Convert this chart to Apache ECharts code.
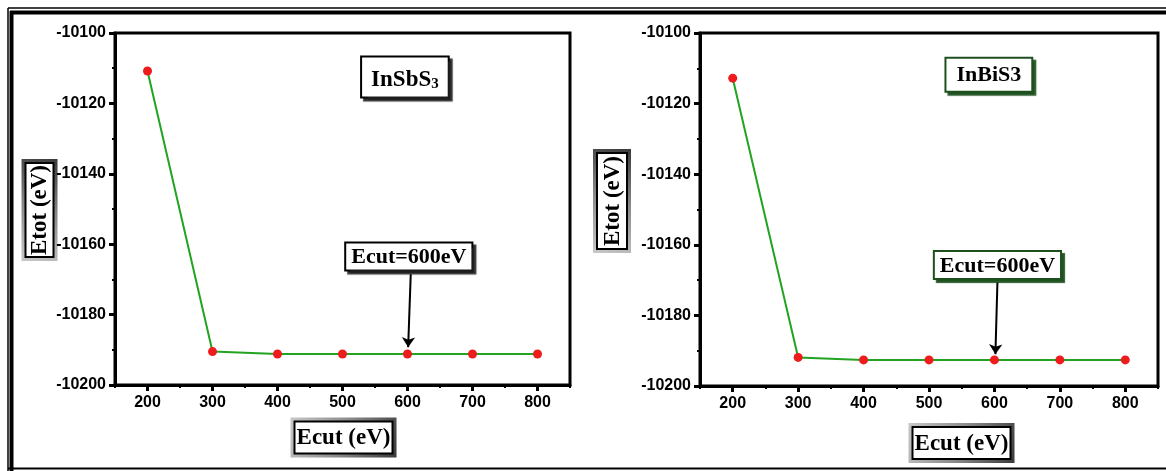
<!DOCTYPE html>
<html>
<head>
<meta charset="utf-8">
<script src="https://cdn.jsdelivr.net/npm/echarts@6/dist/echarts.min.js"></script>
<style>
html,body{margin:0;padding:0;background:#fff;}
#chart{width:1166px;height:471px;}
</style>
</head>
<body>
<div id="chart"></div>
<script>
// ---- data ----
const ecut = [200, 300, 400, 500, 600, 700, 800];
const etotInSbS3 = [-10110.8, -10190.5, -10191.2, -10191.2, -10191.2, -10191.2, -10191.2];
const etotInBiS3 = [-10112.8, -10191.9, -10192.6, -10192.6, -10192.6, -10192.6, -10192.6];
const xTickLabels = [200, 300, 400, 500, 600, 700, 800];
const yTickLabels = [-10200, -10180, -10160, -10140, -10120, -10100];
const chosenLabel = 'Ecut=600eV';
const xTitle = 'Ecut (eV)';
const yTitle = 'Etot (eV)';

const chart = echarts.init(document.getElementById('chart'), null, {renderer: 'canvas'});

const tickFont = {color: '#000', fontFamily: 'Liberation Sans, Arial, sans-serif', fontWeight: 'bold', fontSize: 16};
const serif = 'Liberation Serif, Times New Roman, serif';

function xAxes(gi) {
  return [
    {
      gridIndex: gi, type: 'value', min: 150, max: 850, position: 'bottom',
      axisLine: {show: true, onZero: false, lineStyle: {color: '#000', width: 3}},
      axisTick: {show: true, length: 6, customValues: xTickLabels, lineStyle: {color: '#000', width: 3}},
      axisLabel: Object.assign({margin: 10, customValues: xTickLabels, formatter: v => String(v)}, tickFont),
      splitLine: {show: false}
    },
    {
      gridIndex: gi, type: 'value', min: 150, max: 850, interval: 50, position: 'bottom',
      axisLine: {show: false},
      axisTick: {show: true, length: 3, lineStyle: {color: '#000', width: 2}},
      axisLabel: {show: false},
      splitLine: {show: false}
    }
  ];
}
function yAxis(gi) {
  return {
    gridIndex: gi, type: 'value', min: -10200, max: -10100, interval: 20,
    axisLine: {show: true, onZero: false, lineStyle: {color: '#000', width: 3}},
    axisTick: {show: true, length: 6, lineStyle: {color: '#000', width: 3}},
    minorTick: {show: true, splitNumber: 2, length: 3, lineStyle: {color: '#000', width: 2}},
    axisLabel: Object.assign({margin: 9, customValues: yTickLabels, formatter: v => String(v)}, tickFont),
    splitLine: {show: false}
  };
}

function boxLabel(text, border, shadow, size, pad, rich) {
  return {
    show: true, position: 'inside', formatter: text,
    color: '#000', fontFamily: serif, fontWeight: 'bold', fontSize: size,
    backgroundColor: '#fff', borderColor: border, borderWidth: 2, padding: pad,
    shadowColor: shadow, shadowBlur: 1, shadowOffsetX: 3, shadowOffsetY: 3,
    rich: rich || {}
  };
}

function series(gi, vals, title, border, shadow, titlePos, cutLabelPos, arrow) {
  return {
    type: 'line', xAxisIndex: gi * 2, yAxisIndex: gi,
    data: ecut.map((x, i) => [x, vals[i]]),
    symbol: 'circle', symbolSize: 9, showSymbol: true,
    lineStyle: {color: '#22a322', width: 2},
    itemStyle: {color: '#ee1c1c', borderWidth: 0},
    z: 3,
    markLine: {
      silent: true, symbol: ['none', 'arrow'], symbolSize: 10,
      label: {show: false},
      lineStyle: {color: '#000', width: 2, type: 'solid'},
      data: [[{coord: arrow[0]}, {coord: arrow[1]}]],
      z: 6
    },
    markPoint: {
      silent: true, symbol: 'circle', symbolSize: 1,
      itemStyle: {color: 'rgba(0,0,0,0)'},
      z: 10,
      data: [
        {coord: titlePos, label: title},
        {coord: cutLabelPos, label: boxLabel(chosenLabel, border, shadow, 22, [3, 5, 1, 5])}
      ]
    }
  };
}

const sbTitle = boxLabel('{m|InSbS}{s|3}', '#000', 'rgba(30,30,30,0.9)', 22, [7, 9, 5, 9], {
  m: {fontFamily: serif, fontWeight: 'bold', fontSize: 23, color: '#000', verticalAlign: 'bottom'},
  s: {fontFamily: serif, fontWeight: 'bold', fontSize: 15, color: '#000', verticalAlign: 'bottom', padding: [12, 0, 0, 0]}
});
const biTitle = boxLabel('InBiS3', '#1e4f1e', 'rgba(30,80,30,0.95)', 22, [6, 10, 4, 10]);

// ---- decorative frames & axis title boxes ----
function titleBox(cx, cy, w, h, text, rot) {
  return {
    type: 'group', x: cx, y: cy, rotation: rot, z: 50,
    children: [
      {type: 'rect', shape: {x: -w / 2, y: -h / 2, width: w, height: h},
        style: {fill: new echarts.graphic.LinearGradient(0, 0, 1, 1, [
          {offset: 0, color: '#c8c8c8'}, {offset: 0.5, color: '#8a8a8a'}, {offset: 1, color: '#3a3a3a'}])}},
      {type: 'rect', shape: {x: -w / 2 + 4, y: -h / 2 + 4, width: w - 8, height: h - 8},
        style: {fill: '#fff', stroke: '#000', lineWidth: 2}},
      {type: 'text', x: 0, y: 1, style: {text: text, fontFamily: serif, fontWeight: 'bold', fontSize: 23,
        fill: '#000', align: 'center', verticalAlign: 'middle'}}
    ]
  };
}

const graphics = [
  {type: 'line', shape: {x1: 8, y1: 8, x2: 1166, y2: 8}, style: {stroke: '#000', lineWidth: 1.5}, z: 60},
  {type: 'line', shape: {x1: 10, y1: 12.5, x2: 1166, y2: 12.5}, style: {stroke: '#000', lineWidth: 4}, z: 60},
  {type: 'line', shape: {x1: 8, y1: 8, x2: 8, y2: 471}, style: {stroke: '#000', lineWidth: 1.5}, z: 60},
  {type: 'line', shape: {x1: 11.5, y1: 11, x2: 11.5, y2: 471}, style: {stroke: '#000', lineWidth: 4}, z: 60},
  {type: 'line', shape: {x1: 8, y1: 468.5, x2: 1166, y2: 468.5}, style: {stroke: '#000', lineWidth: 2}, z: 60},
  titleBox(39.5, 210, 102, 36, yTitle, Math.PI / 2),
  titleBox(612, 201, 104, 38, yTitle, Math.PI / 2),
  titleBox(343.5, 437.5, 106, 40, xTitle, 0),
  titleBox(961.5, 443, 106, 40, xTitle, 0)
];

const option = {
  animation: false,
  backgroundColor: '#fff',
  grid: [
    {left: 115, top: 33, right: 596, bottom: 86, show: true, borderColor: '#000', borderWidth: 3, backgroundColor: 'rgba(0,0,0,0)'},
    {left: 700, top: 33, right: 8, bottom: 85, show: true, borderColor: '#000', borderWidth: 3, backgroundColor: 'rgba(0,0,0,0)'}
  ],
  xAxis: xAxes(0).concat(xAxes(1)),
  yAxis: [yAxis(0), yAxis(1)],
  series: [
    series(0, etotInSbS3, sbTitle, '#000', 'rgba(30,30,30,0.9)',
      [596, -10112.5], [602, -10163.5], [[605, -10168.5], [601, -10189.3]]),
    series(1, etotInBiS3, biTitle, '#1e4f1e', 'rgba(30,80,30,0.95)',
      [591.5, -10111.8], [604.6, -10165.7], [[604.6, -10170.5], [601.5, -10191.0]])
  ],
  graphic: graphics
};
chart.setOption(option);
</script>
</body>
</html>
